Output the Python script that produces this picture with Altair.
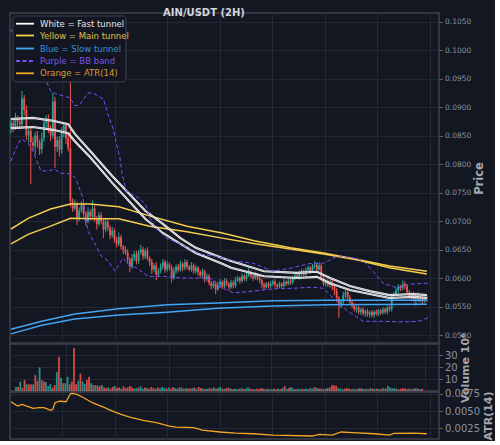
import altair as alt
import pandas as pd

# ---------------- data (prices in units of 1e-4 USDT) ----------------
OPEN0 = 862
CLOSE = [
    872, 866, 880, 874, 870, 915, 895, 850, 858, 838,
    832, 850, 838, 826, 845, 872, 880, 862, 850, 910,
    830, 842, 825, 855, 868, 845, 828, 735, 722, 730,
    705, 718, 728, 712, 700, 716, 708, 722, 705, 695,
    710, 700, 685, 698, 688, 675, 683, 668, 660, 672,
    655, 650, 645, 632, 620, 635, 642, 630, 645, 650,
    638, 648, 635, 628, 615, 622, 606, 612, 620, 628,
    615, 624, 618, 600, 612, 620, 614, 625, 618, 628,
    620, 615, 622, 612, 618, 610, 605, 612, 598, 603,
    592, 586, 590, 580, 588, 593, 585, 595, 590, 584,
    592, 587, 596, 600, 595, 603, 598, 605, 610, 603,
    600, 606, 600, 596, 588, 584, 590, 586, 590, 594,
    588, 585, 590, 586, 593, 590, 595, 592, 600, 605,
    601, 608, 612, 606, 614, 618, 612, 620, 623, 615,
    622, 600, 590, 595, 588, 594, 585, 578, 565, 552,
    558, 570, 575, 566, 558, 552, 545, 548, 540, 545,
    538, 542, 536, 540, 535, 541, 537, 543, 539, 545,
    541, 548, 545, 568, 572, 578, 585, 582, 590, 586,
    575, 568, 572, 563, 570, 562, 568, 560, 566, 563,
]
UPPER_WICK = [
    8, 6, 10, 5, 8, 13, 6, 8, 7, 5,
    9, 6, 8, 5, 10, 8, 6, 7, 6, 15,
    8, 6, 7, 10, 6, 5, 8, 118,
    5, 8, 4, 6, 7, 4, 5, 8, 4, 14, 5, 4, 6, 5, 3, 6, 4, 5, 7, 4,
    5, 8, 4, 3, 6, 5, 4, 7, 5, 6, 4, 8, 5, 4, 6, 3, 5, 4, 6, 5,
    6, 5, 4, 6, 3, 5, 7, 4, 5, 6, 3, 5, 4, 3, 6, 4, 5, 3, 4, 5,
    3, 5, 4, 3, 5, 4, 6, 5, 3, 5, 4, 3, 5, 4, 6, 4, 3, 5, 4, 5,
    8, 4, 3, 5, 3, 4, 3, 4, 3, 4, 5, 3, 4, 3, 4, 3, 5, 3, 4, 3,
    4, 5, 3, 5, 4, 3, 5, 4, 3, 5, 7, 4, 6, 3, 4, 3, 4, 3, 4, 3,
    4, 3, 5, 6, 4, 3, 4, 3, 4, 3, 4, 3, 4, 3, 4, 3, 4, 3, 4, 3,
    3, 4, 3, 4, 3, 5, 4, 5, 4, 3, 6, 4, 3, 4, 3, 4, 3, 5, 3, 4, 3, 4,
]
LOWER_WICK = [
    8, 10, 6, 12, 9, 7, 10, 8, 12, 73,
    8, 15, 9, 10, 8, 6, 9, 8, 10, 6,
    37, 9, 12, 7, 8, 10, 6, 10,
    6, 4, 12, 5, 3, 6, 8, 4, 7, 5, 6, 10, 4, 6, 15, 5, 6, 7, 4, 6,
    6, 4, 5, 8, 4, 7, 10, 4, 5, 6, 5, 4, 6, 5, 4, 7, 8, 5, 10, 4,
    4, 5, 6, 4, 5, 8, 3, 5, 4, 3, 6, 4, 5, 3, 4, 5, 4, 6, 5, 4,
    6, 4, 5, 6, 4, 8, 3, 5, 4, 3, 4, 6, 3, 5, 4, 3, 5, 4, 3, 4,
    3, 4, 5, 3, 4, 5, 6, 5, 3, 4, 3, 4, 5, 4, 3, 4, 3, 4, 3, 4,
    3, 4, 3, 4, 5, 3, 4, 3, 4, 3, 4, 5, 3, 5, 4, 5, 4, 5, 6, 8,
    6, 22, 5, 4, 6, 5, 4, 5, 4, 6, 4, 5, 4, 6, 4, 5, 4, 5, 3, 4,
    4, 3, 4, 5, 4, 4, 5, 3, 4, 5, 4, 6, 5, 4, 6, 5, 12, 4, 5, 6, 4, 5,
]
VOLUME_M = [
    3.4, 3.4, 7.9, 2.8, 9.3, 5.6, 5.5, 5.6, 5.5, 13.3,
    8.5, 19.8, 9, 8, 7.6, 4.2, 5.6, 2.8, 5, 16,
    28.8, 11, 6.5, 6.5, 11.9, 5.5, 8, 36, 5.6, 8.5,
    14.5, 8, 6, 9.3, 12, 6.5, 5, 5, 4.5, 4, 5, 3,
    2.5, 3, 2, 3.5, 4.2, 2.5, 3, 2, 4, 2.5, 3, 4.2, 3, 2, 2.5, 3, 4, 2, 3, 2.5,
    2, 3.4, 2.5, 2, 3, 2, 3.4, 2.5, 2, 3, 2, 3.4, 2.5, 2, 3, 3, 2, 2.5, 2, 2,
    2.5, 3, 2, 3.4, 2.5, 2, 1.5, 2, 2.5, 2, 3, 2, 2.5, 3.4, 2, 2, 2.5, 2.8, 2, 1.5,
    2, 1.5, 2, 2.5, 1.5, 2, 3, 2, 1.5, 1.5, 2, 1.5, 2.5, 2, 1.5, 2, 1.5, 1.5, 2, 1.5,
    2, 1.5, 2.5, 4.2, 2, 2.5, 3.4, 2, 1.5, 2, 1.5, 2, 1.5, 2, 1.5, 2.5, 2, 3.4, 2.5, 2,
    2, 1.5, 2, 2.5, 3, 4.8, 4.8, 4.5, 2.5, 2, 1.5, 2, 2.5, 2, 1.5, 2, 1.5, 2, 2.5, 2,
    1.5, 2, 1.5, 2.5, 2, 1.5, 2, 1.5, 2, 2.5, 2, 4.2, 3, 2, 2.5, 2, 1.5, 2, 2.5, 2,
    1.5, 2, 1.5, 2, 2.5, 2, 1.5, 2,
]

# indicator lines: candle index and value (1e-4 USDT)
FAST_I = [0, 10, 19, 26, 29, 36, 46, 61, 69, 77, 84, 96, 100, 115, 130, 139, 145, 154, 163, 172, 183, 189]
FAST_A = [879, 881, 876, 870, 853, 823, 779, 718, 695, 670, 653, 635, 630, 612, 609, 611, 600, 586, 577, 570, 572, 570]
FAST_B = [863, 865, 860, 854, 840, 812, 767, 704, 679, 660, 644, 625, 618, 603, 600, 602, 591, 579, 572, 565, 567, 565]

MAIN_I = [0, 8, 18, 27, 36, 49, 63, 80, 96, 111, 127, 142, 157, 172, 189]
MAIN_A = [686, 705, 721, 730, 730, 725, 709, 691, 679, 665, 653, 644, 633, 621, 612]
MAIN_B = [660, 677, 691, 705, 704, 704, 691, 681, 670, 660, 651, 642, 632, 618, 607]

SLOW_I = [0, 14, 29, 49, 71, 94, 119, 144, 189]
SLOW_A = [510, 524, 537, 546, 553, 556, 560, 561, 561]
SLOW_B = [502, 517, 528, 535, 540, 547, 551, 553, 554]

BBU_I = [0, 3, 8, 12, 16, 18, 20.5, 27, 29, 31.4, 35, 38, 42, 44, 46.4, 47.7, 49.5, 50.5, 52.3, 58.6,
         61, 63.2, 66, 70.5, 76.8, 86, 92, 96.4, 101, 110, 119, 128, 135, 142, 148.6, 155.5, 160, 164.5,
         169, 176, 180.5, 189.5]
BBU_V = [1037, 1007, 981, 960, 946, 928, 923, 916, 902, 905, 925, 923, 914, 888, 862, 840, 811, 783, 753, 739,
         730, 705, 688, 670, 660, 642, 639, 635, 630, 626, 612, 618, 625, 626, 639, 635, 630, 612,
         591, 582, 589, 591]
BBL_I = [0, 2.3, 4.5, 7.7, 10, 12.3, 13.6, 16.8, 20, 22.3, 26.8, 29.5, 32.7, 35, 38.2, 40.9, 44.1, 47.3, 50.9, 53.2,
         57.7, 62.3, 69, 78, 85, 92, 94, 101, 110, 119, 128, 137, 142, 148.6, 153, 160, 169, 178, 185, 189.5]
BBL_V = [805, 828, 844, 837, 823, 800, 788, 788, 791, 784, 783, 775, 740, 682, 660, 639, 630, 612, 635, 625,
         616, 603, 603, 600, 600, 598, 586, 574, 577, 581, 582, 584, 582, 556, 542, 524, 524, 523, 524, 530]

# ATR(14) in units of 1e-3
ATR_I = [0, 3, 5, 10, 13, 15, 18, 19, 20, 22, 25, 27, 28, 30, 33, 37, 42, 45, 50, 54,
         60, 66, 72, 75, 83, 87, 95, 102, 110, 119, 137, 140, 146, 150, 155, 165, 172, 174, 183, 189]
ATR_V = [6.34, 5.72, 5.97, 5.39, 5.48, 5.48, 5.10, 5.25, 6.20, 6.44, 6.34, 7.50, 7.56, 7.41, 6.92, 6.20, 5.58, 5.14, 4.52, 4.13,
         3.66, 3.31, 2.83, 2.69, 2.59, 2.25, 1.97, 1.82, 1.72, 1.53, 1.39, 1.63, 1.53, 1.97, 1.87, 1.72, 1.53, 1.78, 1.82, 1.72]

PRICE_TICKS = [0.050, 0.055, 0.060, 0.065, 0.070, 0.075, 0.080, 0.085, 0.090, 0.095, 0.100, 0.105]
VOL_TICKS = [10, 20, 30]
ATR_TICKS = [0.0025, 0.0050, 0.0075]
GRID_X = [23.2, 47.1, 71.0, 94.9, 118.8, 142.6, 166.4, 190.2]

# ---------------- styling ----------------
BG = "#131722"
GRID = "#242834"
FRAME = "#3d414c"
TICKLBL = "#8e929c"
UP = "#26a69a"
DOWN = "#ef5350"
WHITE = "#ffffff"
YELLOW = "#f5cd4c"
BLUE = "#42a5f5"
PURPLE = "#7c4dff"
ORANGE = "#f5a623"
FONT = "DejaVu Sans"
W = 429

U = 1e-4
opens = [OPEN0] + CLOSE[:-1]
rows = []
for k, (o, c) in enumerate(zip(opens, CLOSE)):
    rows.append({
        "i": k, "open": o * U, "close": c * U,
        "high": (max(o, c) + UPPER_WICK[k]) * U,
        "low": (min(o, c) - LOWER_WICK[k]) * U,
        "vol": VOLUME_M[k], "dir": "up" if c >= o else "down",
    })
df = pd.DataFrame(rows)


def ldf(idx, vals, name, unit=U):
    return pd.DataFrame({"i": idx, "v": [v * unit for v in vals], "s": name})


fast = pd.concat([ldf(FAST_I, FAST_A, "a"), ldf(FAST_I, FAST_B, "b")])
main = pd.concat([ldf(MAIN_I, MAIN_A, "a"), ldf(MAIN_I, MAIN_B, "b")])
slow = pd.concat([ldf(SLOW_I, SLOW_A, "a"), ldf(SLOW_I, SLOW_B, "b")])
bb = pd.concat([ldf(BBU_I, BBU_V, "u"), ldf(BBL_I, BBL_V, "l")])
atr = ldf(ATR_I, ATR_V, "atr", unit=1e-3)

X_SCALE = alt.Scale(domain=[-0.45, 194.5], nice=False, zero=False)


def xenc():
    return alt.X("i:Q", scale=X_SCALE,
                 axis=alt.Axis(values=GRID_X, labels=False, ticks=False, domain=False,
                               grid=True, title=None, minExtent=0, maxExtent=0,
                               labelPadding=0, offset=0))


P_SCALE = alt.Scale(domain=[0.0486, 0.1065], nice=False, zero=False)
price_axis = alt.Axis(orient="right", values=PRICE_TICKS, format=".4f", title="Price",
                      labelFontSize=7.5, labelColor=TICKLBL, tickColor="#5a5f6b", tickSize=3.5,
                      labelPadding=2, titleFontSize=11.5, titleFontWeight="bold", titleColor="#a3a7b0",
                      titleAngle=270, titleBaseline="top", titlePadding=3, grid=True)


def yp(field):
    return alt.Y(f"{field}:Q", scale=P_SCALE, axis=price_axis)


dircolor = alt.Color("dir:N", scale=alt.Scale(domain=["up", "down"], range=[UP, DOWN]), legend=None)

wicks = alt.Chart(df).mark_rule(strokeWidth=1, clip=True).encode(
    x=xenc(), y=yp("low"), y2="high", color=dircolor)
bodies = alt.Chart(df).mark_rule(strokeWidth=1.8, clip=True).encode(
    x=xenc(), y=yp("open"), y2="close", color=dircolor)


def line(d, color, width, **kw):
    return alt.Chart(d).mark_line(color=color, strokeWidth=width, clip=True, **kw).encode(
        x=xenc(), y=yp("v"), detail="s:N")


slow_l = line(slow, BLUE, 1.5)
main_l = line(main, YELLOW, 1.5)
fast_l = line(fast, WHITE, 2.1)
fast_c = line(fast, "#6d7079", 0.5)
bb_l = line(bb, PURPLE, 1.0, strokeDash=[4, 2.5])

one = pd.DataFrame({"z": [0]})
title = alt.Chart(one).mark_text(text="AIN/USDT (2H)", font=FONT, fontSize=10, fontWeight="bold",
                                 color="#d1d4dc", align="center", baseline="middle").encode(
    x=alt.value(194), y=alt.value(0))

legend_box = alt.Chart(one).mark_rect(fill="#131722", fillOpacity=0.92, stroke="#3d4250",
                                      strokeWidth=1, cornerRadius=3).encode(
    x=alt.value(3), x2=alt.value(116), y=alt.value(3), y2=alt.value(69))
LEG = [
    ("White = Fast tunnel", WHITE, "#e8e8e8", None),
    ("Yellow = Main tunnel", YELLOW, "#e2c14c", None),
    ("Blue = Slow tunnel", BLUE, "#3b8fd8", None),
    ("Purple = BB band", PURPLE, "#7a55e0", [4, 2.5]),
    ("Orange = ATR(14)", ORANGE, "#d99a2e", None),
]
LEG_Y = [10.7, 22.5, 35.5, 48, 60.3]
legend_layers = [legend_box]
for (txt, lc, tc, dash), yy in zip(LEG, LEG_Y):
    kw = {"strokeDash": dash} if dash else {}
    legend_layers.append(alt.Chart(one).mark_rule(color=lc, strokeWidth=1.8, **kw).encode(
        x=alt.value(6), x2=alt.value(24), y=alt.value(yy)))
    legend_layers.append(alt.Chart(one).mark_text(text=txt, font=FONT, fontSize=8.5, color=tc,
                                                  align="left", baseline="middle").encode(
        x=alt.value(30), y=alt.value(yy)))

price = alt.layer(wicks, bodies, slow_l, main_l, fast_l, fast_c, bb_l, title, *legend_layers).properties(
    width=W, height=330)

vol_axis = alt.Axis(orient="right", values=VOL_TICKS, format="d", title="Volume  10⁶",
                    labelFontSize=10, labelColor=TICKLBL, tickColor="#5a5f6b", tickSize=3.5,
                    labelPadding=2, titleFontSize=11, titleFontWeight="bold", titleColor="#a3a7b0",
                    titleAngle=270, titleBaseline="top", titlePadding=2, grid=True)
volume = alt.Chart(df).mark_bar(size=1.8, opacity=0.85).encode(
    x=xenc(),
    y=alt.Y("vol:Q", scale=alt.Scale(domain=[0, 39.4], nice=False), axis=vol_axis),
    color=dircolor,
).properties(width=W, height=47)

atr_axis = alt.Axis(orient="right", values=ATR_TICKS, format=".4f", title="ATR(14)",
                    labelFontSize=10, labelColor=TICKLBL, tickColor="#5a5f6b", tickSize=3.5,
                    labelPadding=2, titleFontSize=11, titleFontWeight="bold", titleColor="#a3a7b0",
                    titleAngle=270, titleBaseline="top", titlePadding=3, grid=True)
atr_c = alt.Chart(atr).mark_line(color=ORANGE, strokeWidth=1.3).encode(
    x=xenc(),
    y=alt.Y("v:Q", scale=alt.Scale(domain=[0.00096, 0.00775], nice=False, zero=False), axis=atr_axis),
).properties(width=W, height=47)

chart = alt.vconcat(price, volume, atr_c, spacing=1, bounds="flush").configure(
    background=BG, padding={"left": 7, "top": 7, "right": 0, "bottom": 0}
).configure_view(
    stroke=FRAME, strokeWidth=1.5, fill=BG
).configure_axis(
    gridColor=GRID, gridWidth=1, domain=False, labelFont=FONT, titleFont=FONT
)

chart.save("out.html", embed_options={"renderer": "svg", "actions": False})
